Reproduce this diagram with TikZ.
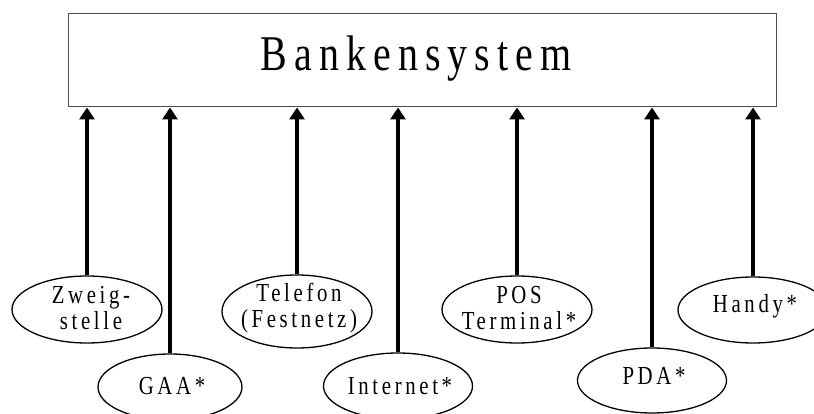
\documentclass[tikz,border=0pt]{standalone}
\usepackage{fontspec}
\setmainfont{Liberation Serif}
\newfontfamily\titlefont[LetterSpace=14,FakeStretch=0.8]{Liberation Serif}
\newfontfamily\chanfont[LetterSpace=14,FakeStretch=0.8]{Liberation Serif}
\usetikzlibrary{shapes.geometric,arrows.meta}
\begin{document}
\begin{tikzpicture}[x=1pt,y=-1pt,
  sysbox/.style={draw=black!70,line width=1pt,minimum width=708pt,minimum height=93pt,inner sep=0pt},
  chan/.style={draw=black,ellipse,line width=1.3pt,inner sep=0pt},
  chantext/.style={align=center,font=\chanfont\fontsize{26}{26}\selectfont,inner sep=0pt},
  feed/.style={line width=4pt,-{Triangle[width=15pt,length=12pt]}}]
\useasboundingbox (0,0) rectangle (814,414);
\node[sysbox] (sys) at (422,60.5) {};
\node[anchor=base,font=\titlefont\fontsize{50}{56}\selectfont,inner sep=0pt] (title) at (416,71) {Bankensystem};
\node[chan,minimum width=150pt,minimum height=67pt,label={[chantext,xshift=4pt,yshift=1pt]center:Zweig-\\stelle}] (zweig) at (87,309.5) {};
\node[chan,minimum width=144pt,minimum height=66pt,label={[chantext,xshift=2pt,yshift=1pt]center:GAA*}] (gaa) at (170,387) {};
\node[chan,minimum width=150pt,minimum height=73pt,label={[chantext,xshift=2pt,yshift=3pt]center:Telefon\\(Festnetz)}] (tel) at (297,311.5) {};
\node[chan,minimum width=149pt,minimum height=66pt,label={[chantext,xshift=2pt]center:Internet*}] (inet) at (398,386) {};
\node[chan,minimum width=150pt,minimum height=67pt,label={[chantext,xshift=2pt,yshift=1pt]center:POS\\Terminal*}] (pos) at (517,309.5) {};
\node[chan,minimum width=149pt,minimum height=65pt,label={[chantext,xshift=2pt,yshift=5pt]center:PDA*}] (pda) at (652,380.5) {};
\node[chan,minimum width=150pt,minimum height=66pt,label={[chantext,xshift=2pt,yshift=4pt]center:Handy*}] (handy) at (753,310) {};
\foreach \n in {zweig,gaa,tel,inet,pos,pda,handy}{
  \draw[feed] (\n.north) -- (\n.north |- sys.south);
}
\end{tikzpicture}
\end{document}
